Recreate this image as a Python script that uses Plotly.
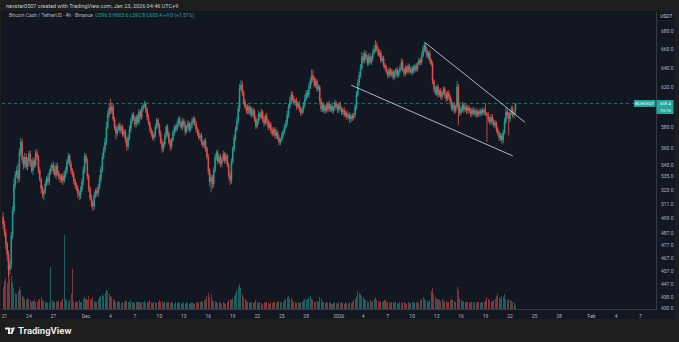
import numpy as np
import pandas as pd
import plotly.graph_objects as go

W, H = 679, 342

# ---- BCH/USDT 4h candles (Binance) ----
START = "2025-11-20 20:00"
FIRST_OPEN = 500.0
LAST_OPEN = 596.5

CLOSE = [
    494, 487, 478, 470, 458, 462, 485, 505, 528, 536, 540, 533, 556, 566, 550, 545, 552, 543, 548, 555,
    546, 540, 549, 545, 556, 552, 540, 532, 524, 519, 522, 528, 533, 530, 538, 542, 545, 540, 536, 544,
    538, 534, 532, 535, 531, 536, 540, 548, 553, 546, 540, 536, 531, 527, 524, 520, 518, 523, 530, 540,
    553, 548, 535, 524, 516, 512, 509, 518, 522, 520, 525, 532, 541, 552, 559, 566, 580, 592, 599, 596,
    600, 588, 580, 574, 578, 582, 577, 580, 573, 576, 568, 562, 570, 578, 586, 592, 588, 583, 590, 585,
    595, 590, 598, 601, 603, 597, 590, 584, 578, 574, 570, 573, 580, 587, 582, 574, 566, 560, 564, 572,
    580, 574, 566, 562, 568, 575, 580, 578, 583, 588, 584, 580, 586, 583, 576, 580, 584, 578, 582, 586,
    588, 583, 578, 575, 570, 572, 566, 563, 567, 560, 552, 540, 530, 534, 528, 540, 552, 556, 548, 552,
    546, 550, 555, 549, 553, 545, 536, 531, 548, 560, 570, 578, 586, 598, 618, 622, 614, 605, 600, 596,
    600, 594, 598, 592, 596, 588, 581, 586, 593, 590, 595, 588, 584, 591, 586, 580, 583, 577, 574, 578,
    572, 575, 570, 566, 568, 572, 576, 580, 584, 592, 600, 606, 612, 608, 604, 606, 600, 603, 598, 594,
    597, 602, 608, 614, 612, 620, 626, 632, 628, 622, 626, 618, 620, 606, 598, 602, 596, 600, 597, 603,
    598, 601, 596, 599, 604, 600, 597, 602, 598, 595, 597, 592, 594, 590, 592, 588, 591, 589, 592, 600,
    612, 624, 632, 640, 652, 648, 655, 650, 645, 652, 646, 650, 656, 660, 664, 660, 654, 656, 648, 650,
    643, 640, 636, 632, 638, 633, 636, 630, 634, 638, 632, 636, 640, 646, 638, 634, 640, 636, 642, 638,
    635, 640, 637, 642, 639, 644, 648, 646, 653, 660, 664, 658, 652, 656, 648, 644, 626, 618, 614, 620,
    612, 616, 610, 614, 618, 612, 608, 614, 610, 605, 598, 602, 596, 600, 620, 600, 594, 598, 602, 597,
    600, 596, 599, 596, 593, 597, 594, 596, 592, 595, 593, 596, 594, 597, 595, 593, 592, 588, 585, 590,
    586, 582, 584, 578, 574, 570, 572, 568, 575, 586, 595, 592, 588, 594, 598, 592, 594.4, 603.4,
]

UPPER_WICK = [
    4, 3, 3, 2, 3, 4, 3, 4, 5, 3, 4, 6, 4, 4, 3, 3, 4, 3, 4, 3,
    3, 4, 3, 2, 3, 3, 2, 3, 2, 3, 2, 3, 2, 4, 3, 3, 2, 3, 4, 3,
    3, 2, 3, 2, 3, 4, 3, 2, 3, 2, 3, 2, 3, 2, 2, 3, 2, 3, 3, 4,
    3, 2, 3, 2, 2, 3, 2, 3, 2, 3, 3, 4, 3, 4, 3, 4, 5, 4, 5, 9,
    4, 3, 2, 3, 3, 2, 3, 2, 3, 2, 2, 3, 3, 4, 3, 2, 3, 3, 2, 3,
    3, 2, 3, 2, 3, 2, 2, 3, 2, 2, 3, 2, 3, 2, 2, 2, 3, 3, 2, 3,
    2, 3, 2, 3, 2, 3, 2, 3, 3, 2, 3, 2, 3, 2, 3, 2, 3, 2, 2, 3,
    3, 2, 3, 2, 3, 2, 3, 2, 2, 3, 2, 3, 2, 3, 2, 3, 3, 2, 3, 2,
    3, 2, 3, 2, 3, 2, 2, 3, 3, 2, 3, 3, 4, 4, 5, 5, 4, 3, 3, 2,
    3, 2, 3, 2, 3, 2, 3, 2, 3, 2, 3, 2, 3, 2, 3, 2, 3, 2, 3, 2,
    2, 3, 2, 3, 2, 3, 2, 3, 3, 4, 3, 4, 4, 3, 3, 2, 3, 2, 3, 2,
    3, 3, 4, 3, 3, 4, 4, 6, 6, 3, 3, 2, 3, 2, 3, 2, 3, 2, 3, 2,
    3, 2, 3, 2, 3, 2, 3, 2, 3, 2, 2, 3, 2, 3, 2, 3, 2, 3, 2, 3,
    4, 4, 4, 4, 5, 4, 4, 3, 4, 3, 4, 3, 4, 5, 6, 4, 3, 4, 3, 3,
    3, 2, 3, 2, 3, 2, 3, 2, 3, 2, 3, 2, 3, 4, 3, 2, 3, 2, 3, 2,
    3, 2, 3, 2, 3, 2, 3, 2, 4, 4, 4, 3, 3, 2, 3, 2, 3, 2, 3, 2,
    3, 2, 3, 2, 3, 2, 3, 2, 3, 2, 3, 2, 3, 2, 6, 3, 3, 2, 3, 2,
    3, 2, 3, 2, 3, 2, 3, 2, 3, 2, 2, 3, 2, 3, 2, 9, 2, 3, 2, 3,
    3, 2, 3, 2, 2, 2, 3, 2, 3, 3, 4, 3, 3, 3, 3, 3, 2, 0.2,
]

LOWER_WICK = [
    4, 3, 4, 5, 6, 4, 3, 3, 3, 4, 3, 4, 3, 3, 3, 4, 3, 2, 3, 4,
    3, 2, 4, 3, 2, 3, 3, 2, 4, 3, 5, 3, 2, 3, 3, 2, 3, 3, 2, 4,
    3, 2, 3, 3, 4, 2, 3, 3, 2, 3, 3, 2, 3, 3, 2, 4, 4, 3, 2, 3,
    3, 2, 3, 3, 2, 4, 4, 3, 2, 3, 3, 2, 3, 3, 2, 3, 3, 2, 3, 3,
    3, 2, 3, 6, 3, 2, 3, 3, 2, 3, 3, 4, 3, 2, 3, 3, 2, 3, 3, 2,
    3, 2, 3, 3, 2, 3, 3, 2, 3, 3, 2, 3, 3, 2, 3, 3, 2, 4, 3, 2,
    3, 3, 2, 4, 3, 2, 3, 3, 2, 3, 3, 2, 3, 3, 4, 2, 3, 3, 2, 3,
    3, 2, 3, 3, 2, 3, 3, 2, 3, 3, 2, 4, 4, 9, 4, 3, 2, 3, 3, 2,
    3, 3, 2, 3, 3, 2, 3, 4, 3, 2, 3, 3, 2, 3, 3, 2, 3, 3, 2, 3,
    3, 2, 3, 3, 2, 3, 3, 2, 3, 3, 2, 3, 3, 2, 3, 3, 2, 3, 3, 2,
    3, 3, 2, 3, 3, 2, 3, 3, 2, 3, 3, 2, 3, 3, 2, 3, 3, 2, 3, 3,
    2, 3, 3, 2, 3, 3, 2, 3, 3, 2, 3, 3, 2, 4, 3, 3, 2, 3, 3, 2,
    3, 3, 2, 3, 3, 2, 3, 3, 2, 3, 3, 2, 3, 3, 2, 4, 3, 3, 2, 3,
    3, 2, 3, 3, 2, 3, 3, 2, 3, 3, 2, 3, 3, 2, 3, 3, 2, 3, 3, 2,
    3, 3, 2, 3, 3, 2, 3, 3, 2, 3, 3, 2, 3, 3, 2, 3, 3, 2, 3, 3,
    2, 3, 3, 2, 3, 3, 2, 3, 3, 2, 3, 3, 2, 3, 3, 2, 3, 3, 2, 3,
    3, 2, 3, 3, 2, 3, 3, 2, 3, 3, 2, 3, 3, 2, 3, 18, 3, 2, 3, 3,
    2, 3, 3, 2, 3, 3, 2, 3, 3, 2, 3, 3, 2, 3, 3, 2, 26, 3, 2, 3,
    3, 2, 3, 3, 2, 3, 3, 4, 3, 2, 3, 3, 16, 3, 2, 3, 3, 3.7,
]

VOLUME = [
    30, 38, 42, 35, 55, 40, 45, 36, 28, 22, 20, 24, 30, 26, 18, 16, 14, 12, 15, 13,
    12, 10, 11, 13, 9, 10, 12, 14, 16, 12, 11, 9, 10, 8, 10, 57, 12, 10, 9, 11,
    10, 12, 9, 11, 14, 100, 14, 12, 10, 12, 20, 54, 10, 9, 11, 10, 12, 9, 10, 14,
    16, 14, 12, 18, 14, 12, 16, 11, 9, 10, 14, 16, 18, 20, 18, 22, 26, 24, 20, 18,
    16, 14, 12, 10, 9, 11, 10, 8, 9, 10, 12, 11, 9, 10, 12, 10, 9, 8, 10, 9,
    9, 8, 10, 9, 11, 8, 9, 10, 12, 9, 8, 10, 9, 8, 10, 12, 9, 11, 8, 9,
    8, 9, 10, 8, 9, 8, 7, 9, 8, 10, 8, 7, 9, 8, 7, 9, 8, 7, 9, 8,
    8, 7, 9, 8, 10, 9, 11, 10, 12, 14, 18, 22, 16, 20, 12, 10, 11, 9, 8, 9,
    8, 7, 9, 8, 7, 9, 12, 14, 12, 15, 18, 22, 26, 30, 34, 28, 20, 16, 14, 12,
    10, 9, 8, 9, 8, 10, 12, 9, 8, 9, 8, 7, 9, 8, 9, 8, 7, 9, 8, 10,
    9, 8, 9, 11, 10, 9, 10, 12, 14, 16, 18, 14, 15, 12, 10, 9, 8, 9, 8, 9,
    10, 12, 14, 12, 14, 16, 18, 14, 12, 10, 9, 11, 10, 16, 14, 10, 9, 8, 9, 8,
    8, 9, 7, 8, 9, 8, 7, 9, 8, 9, 8, 7, 9, 8, 7, 9, 8, 10, 12, 14,
    18, 24, 22, 20, 18, 16, 14, 12, 11, 10, 12, 10, 11, 14, 16, 12, 11, 10, 9, 10,
    11, 12, 9, 10, 9, 8, 9, 10, 8, 9, 8, 7, 9, 10, 8, 9, 8, 7, 9, 8,
    8, 9, 8, 10, 9, 8, 10, 12, 14, 16, 14, 12, 11, 10, 12, 24, 28, 20, 16, 14,
    13, 12, 11, 14, 12, 10, 11, 9, 10, 12, 14, 12, 11, 10, 30, 26, 14, 12, 10, 11,
    10, 9, 10, 9, 8, 9, 10, 8, 9, 10, 9, 8, 9, 10, 9, 12, 16, 14, 12, 10,
    11, 12, 14, 18, 20, 16, 14, 18, 16, 20, 14, 12, 14, 12, 11, 10, 8, 6,
]

# falling wedge drawn on the chart: (time, price) end points
UPPER_LINE_T = ["2026-01-11 13:40", "2026-01-23 20:10"]
UPPER_LINE_P = [667.4, 584.8]
LOWER_LINE_T = ["2026-01-02 12:30", "2026-01-22 08:00"]
LOWER_LINE_P = [621.9, 553.2]

# 600.0 sits under the last-price tag, so it is left out of the scale labels
PRICE_TICKS = [680, 660, 640, 620, 580, 560, 545, 535, 523, 511, 499, 487, 477, 467, 457, 447, 438, 430]
TIME_TICKS = ["2025-11-21", "2025-11-24", "2025-11-27", "2025-12-01", "2025-12-04", "2025-12-07",
              "2025-12-10", "2025-12-13", "2025-12-16", "2025-12-19", "2025-12-22", "2025-12-25",
              "2025-12-28", "2026-01-01", "2026-01-04", "2026-01-07", "2026-01-10", "2026-01-13",
              "2026-01-16", "2026-01-19", "2026-01-22", "2026-01-25", "2026-01-28", "2026-02-01",
              "2026-02-04", "2026-02-07"]
TIME_LABELS = ["21", "24", "27", "Dec", "4", "7", "10", "13", "16", "19", "22", "25", "28", "2026",
               "4", "7", "10", "13", "16", "19", "22", "25", "28", "Feb", "4", "7"]

# ---- derived OHLC ----
times = pd.date_range(START, periods=len(CLOSE), freq="4h")
opens = [FIRST_OPEN] + CLOSE[:-1]
opens[-1] = LAST_OPEN
highs = [max(o, c) + u for o, c, u in zip(opens, CLOSE, UPPER_WICK)]
lows = [min(o, c) - d for o, c, d in zip(opens, CLOSE, LOWER_WICK)]
up = [c >= o for o, c in zip(opens, CLOSE)]

GREEN = "#26a69a"
RED = "#ef5350"
BG = "#131722"
OUTER = "#1e1e1e"
TEXT = "#b2b5be"
FONT = "Roboto, Arial, sans-serif"

# plot-area in pixels
PX_L, PX_R, PX_T, PX_B = 2, 656, 12, 309
Y_LO, Y_HI = 429.3, 702.0
X_LO, X_HI = pd.Timestamp("2025-11-20 16:48"), pd.Timestamp("2026-02-08 21:36")


# pixel -> paper coordinates (paper space spans the plot area)
def px(x):
    return (x - PX_L) / (PX_R - PX_L)


def py(y):
    return (PX_B - y) / (PX_B - PX_T)


fig = go.Figure()

# volume (overlay, bottom of pane)
fig.add_trace(go.Bar(
    x=times, y=VOLUME, yaxis="y2",
    marker=dict(color=["rgba(38,166,154,0.5)" if u else "rgba(239,83,80,0.5)" for u in up], line_width=0),
    width=4 * 3600 * 1000 * 0.75, hoverinfo="skip", showlegend=False,
))

fig.add_trace(go.Candlestick(
    x=times, open=opens, high=highs, low=lows, close=CLOSE,
    increasing=dict(line=dict(color=GREEN, width=0.8), fillcolor=GREEN),
    decreasing=dict(line=dict(color=RED, width=0.8), fillcolor=RED),
    whiskerwidth=0, showlegend=False,
))

# last-price dotted line
fig.add_trace(go.Scatter(
    x=[X_LO, X_HI], y=[CLOSE[-1], CLOSE[-1]], mode="lines",
    line=dict(color="rgba(38,166,154,0.8)", width=0.8, dash="dot"), hoverinfo="skip", showlegend=False,
))

# wedge trend lines
for tt, pp in ((UPPER_LINE_T, UPPER_LINE_P), (LOWER_LINE_T, LOWER_LINE_P)):
    fig.add_trace(go.Scatter(
        x=pd.to_datetime(tt), y=pp, mode="lines",
        line=dict(color="#b2b5be", width=1), hoverinfo="skip", showlegend=False,
    ))

shapes = [
    # chart panel
    dict(type="rect", xref="paper", yref="paper", x0=px(1), x1=px(675), y0=py(319), y1=py(11),
         fillcolor=BG, line_width=0, layer="below"),
    # USDT box
    dict(type="rect", xref="paper", yref="paper", x0=px(657.5), x1=px(673.5), y0=py(20.5), y1=py(12.5),
         fillcolor="#0c0e15", line=dict(color="#2a2e39", width=0.6)),
]

# last-price tags on the axis
y_last = PX_T + (PX_B - PX_T) * (np.log10(Y_HI) - np.log10(CLOSE[-1])) / (np.log10(Y_HI) - np.log10(Y_LO))
shapes.append(dict(type="rect", xref="paper", yref="paper", x0=px(634), x1=px(655.5),
                   y0=py(y_last + 3.6), y1=py(y_last - 3.4), fillcolor=GREEN, line_width=0))
shapes.append(dict(type="rect", xref="paper", yref="paper", x0=px(656.5), x1=px(673.5),
                   y0=py(y_last + 10.6), y1=py(y_last - 3.4), fillcolor=GREEN, line_width=0))

chg = CLOSE[-1] - CLOSE[-2]
pct = chg / CLOSE[-2] * 100
ohlc = (f"<span style='color:{TEXT}'>Bitcoin Cash / TetherUS · 4h · Binance</span>  "
        f"<span style='color:{GREEN}'>O{opens[-1]:.1f} H{highs[-1]:.1f} L{lows[-1]:.1f} C{CLOSE[-1]:.1f} "
        f"{chg:+.1f} ({pct:+.2f}%)</span>")

tag_font = dict(size=4.3, color="white", family=FONT)
annotations = [
    dict(text="nevstar0507 created with TradingView.com, Jan 23, 2026 04:46 UTC+9",
         x=px(4), y=py(5.5), xref="paper", yref="paper", xanchor="left", yanchor="middle",
         showarrow=False, font=dict(size=5.5, color="#c8cad0", family=FONT)),
    dict(text=ohlc, x=px(7), y=py(15.5), xref="paper", yref="paper", xanchor="left", yanchor="middle",
         showarrow=False, font=dict(size=5, family=FONT)),
    dict(text="USDT", x=px(665.5), y=py(16.5), xref="paper", yref="paper", xanchor="center",
         yanchor="middle", showarrow=False, font=dict(size=5, color="#d1d4dc", family=FONT)),
    dict(text="BCHUSDT", x=px(644.8), y=py(y_last), xref="paper", yref="paper", xanchor="center",
         yanchor="middle", showarrow=False, font=tag_font),
    dict(text=f"{CLOSE[-1]:.1f}", x=px(665), y=py(y_last - 0.3), xref="paper", yref="paper",
         xanchor="center", yanchor="middle", showarrow=False, font=tag_font, height=5),
    dict(text="13:15", x=px(665), y=py(y_last + 6.6), xref="paper", yref="paper", xanchor="center",
         yanchor="middle", showarrow=False, font=tag_font, height=5),
    dict(text="<b>TradingView</b>", x=px(16), y=py(330.5), xref="paper", yref="paper", xanchor="left",
         yanchor="middle", showarrow=False, font=dict(size=9.5, color="#e8e8e8", family=FONT)),
]

# TradingView logo mark
shapes += [
    dict(type="path", xref="paper", yref="paper", fillcolor="#e8e8e8", line_width=0,
         path=f"M {px(5)},{py(327.5)} L {px(10)},{py(327.5)} L {px(10)},{py(334)} L {px(8)},{py(334)} "
              f"L {px(8)},{py(329.5)} L {px(5)},{py(329.5)} Z"),
    dict(type="circle", xref="paper", yref="paper", fillcolor="#e8e8e8", line_width=0,
         x0=px(10.3), x1=px(12.1), y0=py(329.6), y1=py(327.8)),
    dict(type="path", xref="paper", yref="paper", fillcolor="#e8e8e8", line_width=0,
         path=f"M {px(12.6)},{py(327.5)} L {px(15)},{py(327.5)} L {px(12.3)},{py(334)} L {px(9.9)},{py(334)} Z"),
]

fig.update_layout(
    width=W, height=H,
    margin=dict(l=PX_L, r=W - PX_R, t=PX_T, b=H - PX_B, pad=0),
    paper_bgcolor=OUTER, plot_bgcolor="rgba(0,0,0,0)",
    font=dict(family=FONT, color=TEXT),
    shapes=shapes, annotations=annotations,
    bargap=0, showlegend=False,
    xaxis=dict(
        type="date", range=[X_LO, X_HI], rangeslider=dict(visible=False),
        tickvals=pd.to_datetime(TIME_TICKS), ticktext=TIME_LABELS,
        showgrid=False, zeroline=False, showline=True, linecolor="#363a45", linewidth=1,
        ticks="", tickfont=dict(size=5, color=TEXT), ticklabelstandoff=2,
    ),
    yaxis=dict(
        type="log", range=[np.log10(Y_LO), np.log10(Y_HI)], side="right",
        tickvals=PRICE_TICKS, ticktext=[f"{v:.1f}" for v in PRICE_TICKS],
        showgrid=False, zeroline=False, showline=True, linecolor="#363a45", linewidth=1,
        ticks="", tickfont=dict(size=5, color=TEXT), ticklabelstandoff=3,
    ),
    yaxis2=dict(overlaying="y", range=[0, 400], visible=False),
)

fig.write_html("out.html")
